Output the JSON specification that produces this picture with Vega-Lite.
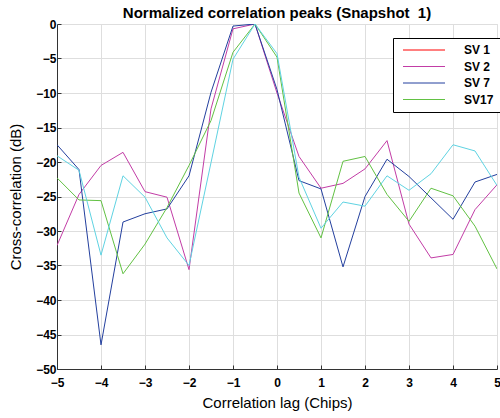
{
  "$schema": "https://vega.github.io/schema/vega-lite/v6.json",
  "width": 440,
  "height": 345,
  "autosize": "none",
  "padding": {"left": 57, "top": 24, "right": 3, "bottom": 49},
  "background": "white",
  "title": {
    "text": "Normalized correlation peaks (Snapshot \u00a01)",
    "font": "Liberation Sans",
    "fontSize": 15,
    "fontWeight": "bold",
    "color": "black",
    "offset": -3
  },
  "data": {
    "values": [
      {"lag": -5, "SV 2": -32.1, "SV 7": -17.5, "SV17": -22.3, "SV 13": -19.1},
      {"lag": -4.5, "SV 2": -24.7, "SV 7": -21.1, "SV17": -25.5, "SV 13": -21.2},
      {"lag": -4, "SV 2": -20.5, "SV 7": -46.5, "SV17": -25.6, "SV 13": -33.5},
      {"lag": -3.5, "SV 2": -18.6, "SV 7": -28.7, "SV17": -36.2, "SV 13": -22.0},
      {"lag": -3, "SV 2": -24.3, "SV 7": -27.5, "SV17": -31.9, "SV 13": -25.1},
      {"lag": -2.5, "SV 2": -25.1, "SV 7": -26.8, "SV17": -26.6, "SV 13": -31.0},
      {"lag": -2, "SV 2": -35.6, "SV 7": -22.0, "SV17": -20.5, "SV 13": -35.0},
      {"lag": -1.5, "SV 2": -12.3, "SV 7": -9.9, "SV17": -14.0, "SV 13": -20.1},
      {"lag": -1, "SV 2": -0.7, "SV 7": -0.3, "SV17": -4.1, "SV 13": -5.1},
      {"lag": -0.5, "SV 2": 0, "SV 7": 0, "SV17": 0, "SV 13": 0},
      {"lag": 0, "SV 2": -10.0, "SV 7": -9.5, "SV17": -4.8, "SV 13": -4.3},
      {"lag": 0.5, "SV 2": -19.2, "SV 7": -22.7, "SV17": -24.5, "SV 13": -22.2},
      {"lag": 1, "SV 2": -23.8, "SV 7": -23.9, "SV17": -31.0, "SV 13": -29.6},
      {"lag": 1.5, "SV 2": -23.1, "SV 7": -35.2, "SV17": -19.9, "SV 13": -25.8},
      {"lag": 2, "SV 2": -21.0, "SV 7": -25.0, "SV17": -19.2, "SV 13": -26.4},
      {"lag": 2.5, "SV 2": -16.9, "SV 7": -19.6, "SV17": -24.7, "SV 13": -22.0},
      {"lag": 3, "SV 2": -29.0, "SV 7": -22.1, "SV17": -28.6, "SV 13": -24.1},
      {"lag": 3.5, "SV 2": -33.9, "SV 7": -25.2, "SV17": -23.8, "SV 13": -21.7},
      {"lag": 4, "SV 2": -33.4, "SV 7": -28.3, "SV17": -24.9, "SV 13": -17.5},
      {"lag": 4.5, "SV 2": -26.9, "SV 7": -22.9, "SV17": -29.3, "SV 13": -18.4},
      {"lag": 5, "SV 2": -23.3, "SV 7": -21.8, "SV17": -35.5, "SV 13": -23.4}
    ]
  },
  "transform": [
    {"fold": ["SV 2", "SV 7", "SV17", "SV 13"], "as": ["series", "db"]}
  ],
  "mark": {"type": "line", "strokeWidth": 1, "clip": true},
  "encoding": {
    "x": {
      "field": "lag",
      "type": "quantitative",
      "scale": {"domain": [-5, 5], "nice": false, "zero": false},
      "axis": {
        "title": "Correlation lag (Chips)",
        "values": [-5, -4, -3, -2, -1, 0, 1, 2, 3, 4, 5],
        "format": "d",
        "labelFont": "Liberation Sans",
        "labelFontSize": 12,
        "labelFontWeight": "bold",
        "labelColor": "black",
        "labelPadding": 12,
        "labelFlush": false,
        "tickSize": -4,
        "tickColor": "#333333",
        "domainColor": "#333333",
        "gridColor": "#dedede",
        "titleFont": "Liberation Sans",
        "titleFontSize": 15,
        "titleFontWeight": "normal",
        "titleColor": "black",
        "titlePadding": 7
      }
    },
    "y": {
      "field": "db",
      "type": "quantitative",
      "scale": {"domain": [-50, 0], "nice": false},
      "axis": {
        "title": "Cross-correlation (dB)",
        "values": [-50, -45, -40, -35, -30, -25, -20, -15, -10, -5, 0],
        "format": "d",
        "labelFont": "Liberation Sans",
        "labelFontSize": 12,
        "labelFontWeight": "bold",
        "labelColor": "black",
        "labelPadding": 5,
        "labelFlush": false,
        "tickSize": -4,
        "tickColor": "#333333",
        "domainColor": "#333333",
        "gridColor": "#dedede",
        "titleFont": "Liberation Sans",
        "titleFontSize": 15,
        "titleFontWeight": "normal",
        "titleColor": "black",
        "titlePadding": 12
      }
    },
    "color": {
      "field": "series",
      "type": "nominal",
      "scale": {
        "domain": ["SV 1", "SV 2", "SV 7", "SV17", "SV 13"],
        "range": ["#ff0000", "#c23ca6", "#233f9e", "#62c143", "#5fd3e2"]
      },
      "legend": {
        "title": null,
        "values": ["SV 1", "SV 2", "SV 7", "SV17"],
        "orient": "none",
        "legendX": 336,
        "legendY": 14,
        "symbolType": "M-10.5,0H10.5",
        "symbolSize": 16,
        "symbolOffset": 19,
        "symbolStrokeWidth": 1,
        "labelFont": "Liberation Sans",
        "labelFontSize": 12,
        "labelFontWeight": "bold",
        "labelColor": "black",
        "labelOffset": 34,
        "strokeColor": "black",
        "fillColor": "white",
        "padding": 6,
        "rowPadding": 4.5
      }
    }
  }
}
